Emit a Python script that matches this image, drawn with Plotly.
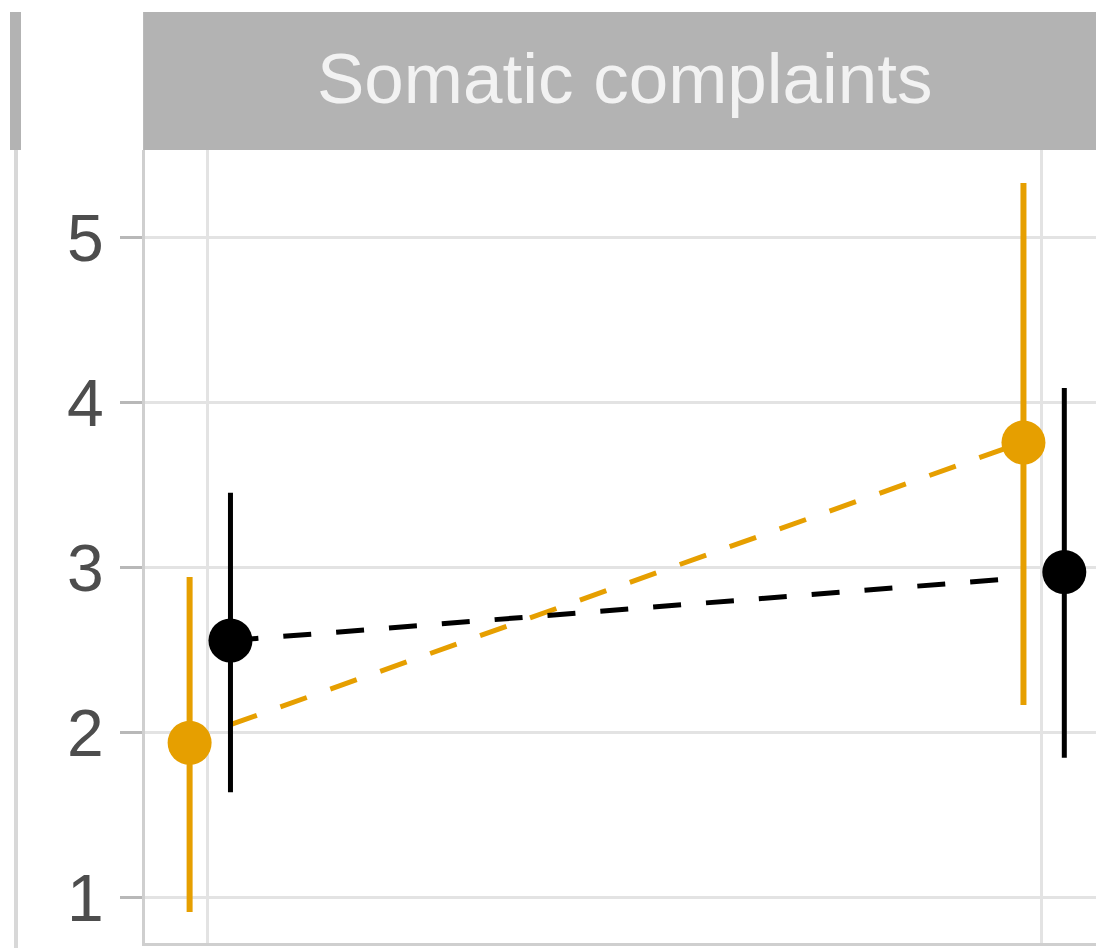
import plotly.graph_objects as go

# ---- data ----
times = [1, 2]
groups = ["Group A", "Group B"]
colors = ["#E69F00", "#000000"]
means = {"Group A": [1.94, 3.76], "Group B": [2.56, 2.975]}
upper = {"Group A": [2.945, 5.333], "Group B": [3.455, 4.09]}
lower = {"Group A": [0.915, 2.17], "Group B": [1.64, 1.85]}
line_vals = {"Group A": [2.05, 3.76], "Group B": [2.56, 2.94]}
y_ticks = [1, 2, 3, 4, 5]
facet_title = "Somatic complaints"

dodge = {"Group A": -0.022, "Group B": 0.027}
line_x = [1.027, 1.976]

fig = go.Figure()
for g, c in zip(groups, colors):
    fig.add_trace(go.Scatter(
        x=line_x, y=line_vals[g], mode="lines",
        line=dict(color=c, width=5, dash="28px,25px"),
        showlegend=False, hoverinfo="skip"))
for g, c in zip(groups, colors):
    xs = [t + dodge[g] for t in times]
    fig.add_trace(go.Scatter(
        x=xs, y=means[g], mode="markers",
        marker=dict(color=c, size=44),
        error_y=dict(type="data", symmetric=False,
                     array=[u - m for u, m in zip(upper[g], means[g])],
                     arrayminus=[m - l for m, l in zip(means[g], lower[g])],
                     color=c, thickness=6 if g == "Group A" else 5, width=0),
        showlegend=False))

fig.update_layout(
    width=1096, height=948,
    margin=dict(l=145, r=0, t=150, b=5, autoexpand=False),
    paper_bgcolor="white", plot_bgcolor="white",
    font=dict(family="Liberation Sans, Arial, sans-serif"),
)
fig.update_xaxes(range=[0.9245, 2.065], tickvals=times, showticklabels=False,
                 showgrid=True, gridcolor="#E3E3E3", gridwidth=3,
                 zeroline=False, showline=True, linecolor="#CFCFCF", linewidth=3,
                 ticks="")
fig.update_yaxes(range=[0.727, 5.533], tickvals=y_ticks,
                 showgrid=True, gridcolor="#E3E3E3", gridwidth=3,
                 zeroline=False, showline=True, linecolor="#CFCFCF", linewidth=3,
                 ticks="outside", ticklen=22, tickcolor="#B8B8B8", tickwidth=3,
                 tickfont=dict(size=66, color="#4D4D4D"), ticklabelstandoff=3)

# facet strip
fig.add_shape(type="rect", xref="paper", yref="paper",
              x0=-0.002, x1=1.02, y0=1.0, y1=1.174,
              fillcolor="#B3B3B3", line=dict(width=0), layer="above")
fig.add_annotation(text=facet_title, xref="paper", yref="paper",
                   x=(625 - 145) / 951, y=1.09, xanchor="center", yanchor="middle",
                   showarrow=False, font=dict(size=71, color="#F2F2F2"))
# neighbouring facet remnants
fig.add_shape(type="rect", xref="paper", yref="paper",
              x0=(10 - 145) / 951, x1=(21 - 145) / 951, y0=1.0, y1=1.174,
              fillcolor="#B3B3B3", line=dict(width=0))
fig.add_shape(type="line", xref="paper", yref="paper",
              x0=(16 - 145) / 951, x1=(16 - 145) / 951, y0=-0.01, y1=1.0,
              line=dict(color="#D8D8D8", width=4))

fig.write_html("out.html", config={"displayModeBar": False},
               post_script="document.body.style.margin='0px';document.body.style.padding='0px';")
